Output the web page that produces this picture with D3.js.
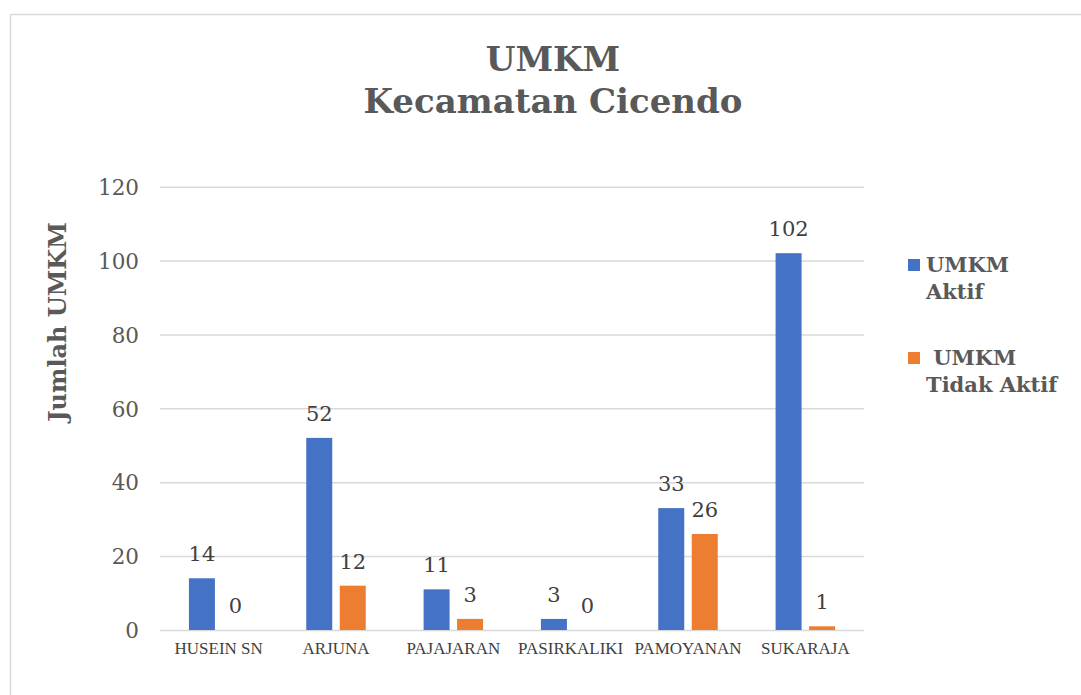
<!DOCTYPE html>
<html>
<head>
<meta charset="utf-8">
<script src="https://cdn.jsdelivr.net/npm/d3@7"></script>
<style>
    body { margin: 0; background: #fff; }
    svg { display: block; }
</style>
</head>
<body>
<div id="chart"></div>
<script>
// data
var categories = ["HUSEIN SN", "ARJUNA", "PAJAJARAN", "PASIRKALIKI", "PAMOYANAN", "SUKARAJA"];
var seriesNames = ["UMKM Aktif", "UMKM Tidak Aktif"];
var aktif = [14, 52, 11, 3, 33, 102];
var tidakAktif = [0, 12, 3, 0, 26, 1];
var yTicks = [0, 20, 40, 60, 80, 100, 120];
var legendLines = [["UMKM", "Aktif"], [" UMKM", "Tidak Aktif"]];
var titleLines = ["UMKM", "Kecamatan Cicendo"];

var width = 1081;
var height = 695;
var margin = { top: 187, right: 217, bottom: 65, left: 160 };

var svg = d3.select("#chart").append("svg")
    .attr("width", width)
    .attr("height", height);

// outer border of the chart area (runs off right/bottom)
svg.append("rect")
    .attr("x", 10.5)
    .attr("y", 14.5)
    .attr("width", 1200)
    .attr("height", 800)
    .attr("fill", "none")
    .attr("stroke", "#d9d9d9")
    .attr("stroke-width", 1.5);

var colors = d3.scaleOrdinal()
    .domain(seriesNames)
    .range(["#4472C4", "#ED7D31"]);

var xScale = d3.scaleBand()
    .domain(categories)
    .range([margin.left, width - margin.right]);

var groupW = 59.5;
var xInner = d3.scaleBand()
    .domain(seriesNames)
    .range([xScale.bandwidth() / 2 - groupW / 2, xScale.bandwidth() / 2 + groupW / 2])
    .paddingInner(0.224);

var yScale = d3.scaleLinear()
    .domain([0, 120])
    .range([630, 186.7]);

// gridlines + y tick labels
var yAxis = svg.append("g")
    .attr("transform", "translate(" + margin.left + ",0)")
    .call(d3.axisLeft(yScale)
        .tickValues(yTicks)
        .tickSize(-(width - margin.right - margin.left))
        .tickPadding(21));
yAxis.select(".domain").remove();
yAxis.selectAll(".tick line")
    .attr("stroke", "#d9d9d9")
    .attr("stroke-width", 1.5);
yAxis.selectAll(".tick text")
    .attr("fill", "#595959")
    .attr("dy", "0.36em")
    .style("font-family", "'DejaVu Serif'")
    .style("font-size", "21.5px");

// category labels
var xAxis = svg.append("g")
    .attr("transform", "translate(0," + yScale(0) + ")")
    .call(d3.axisBottom(xScale).tickSize(0).tickPadding(0));
xAxis.select(".domain").remove();
xAxis.selectAll(".tick text")
    .attr("y", 24)
    .attr("dy", 0)
    .attr("fill", "#404040")
    .style("font-family", "'Liberation Serif'")
    .style("font-size", "17px");

// bars
var rows = categories.map(function (c, i) {
    return { cat: c, values: [
        { key: seriesNames[0], value: aktif[i] },
        { key: seriesNames[1], value: tidakAktif[i] }
    ] };
});

var groups = svg.append("g").selectAll("g")
    .data(rows)
    .enter()
    .append("g")
    .attr("transform", function (d) { return "translate(" + xScale(d.cat) + ",0)"; });

groups.selectAll("rect")
    .data(function (d) { return d.values; })
    .enter()
    .append("rect")
    .attr("x", function (d) { return xInner(d.key); })
    .attr("y", function (d) { return yScale(d.value); })
    .attr("width", xInner.bandwidth())
    .attr("height", function (d) { return yScale(0) - yScale(d.value); })
    .attr("fill", function (d) { return colors(d.key); });

groups.selectAll("text")
    .data(function (d) { return d.values; })
    .enter()
    .append("text")
    .attr("x", function (d) { return xInner(d.key) + xInner.bandwidth() / 2; })
    .attr("y", function (d) { return yScale(d.value) - 17; })
    .attr("text-anchor", "middle")
    .attr("fill", "#404040")
    .style("font-family", "'DejaVu Serif'")
    .style("font-size", "21px")
    .text(function (d) { return d.value; });

// title
svg.append("g").selectAll("text")
    .data(titleLines)
    .enter()
    .append("text")
    .attr("x", 553)
    .attr("y", function (d, i) { return 71 + i * 42; })
    .attr("text-anchor", "middle")
    .attr("fill", "#595959")
    .style("font-family", "'DejaVu Serif'")
    .style("font-weight", "bold")
    .style("font-size", "34px")
    .text(function (d) { return d; });

// y axis title
svg.append("text")
    .attr("transform", "translate(66,322) rotate(-90)")
    .attr("text-anchor", "middle")
    .attr("fill", "#595959")
    .style("font-family", "'DejaVu Serif'")
    .style("font-weight", "bold")
    .style("font-size", "24px")
    .text("Jumlah UMKM");

// legend
var legend = svg.append("g").selectAll("g")
    .data(seriesNames)
    .enter()
    .append("g")
    .attr("transform", function (d, i) { return "translate(908," + (259 + i * 93) + ")"; });

legend.append("rect")
    .attr("width", 12)
    .attr("height", 12)
    .attr("fill", function (d) { return colors(d); });

legend.each(function (d, i) {
    d3.select(this).selectAll("text")
        .data(legendLines[i])
        .enter()
        .append("text")
        .attr("x", 18)
        .attr("y", function (t, j) { return 13 + j * 27; })
        .attr("fill", "#595959")
        .style("white-space", "pre")
        .style("font-family", "'DejaVu Serif'")
        .style("font-weight", "bold")
        .style("font-size", "21px")
        .text(function (t) { return t; });
});
</script>
</body>
</html>
